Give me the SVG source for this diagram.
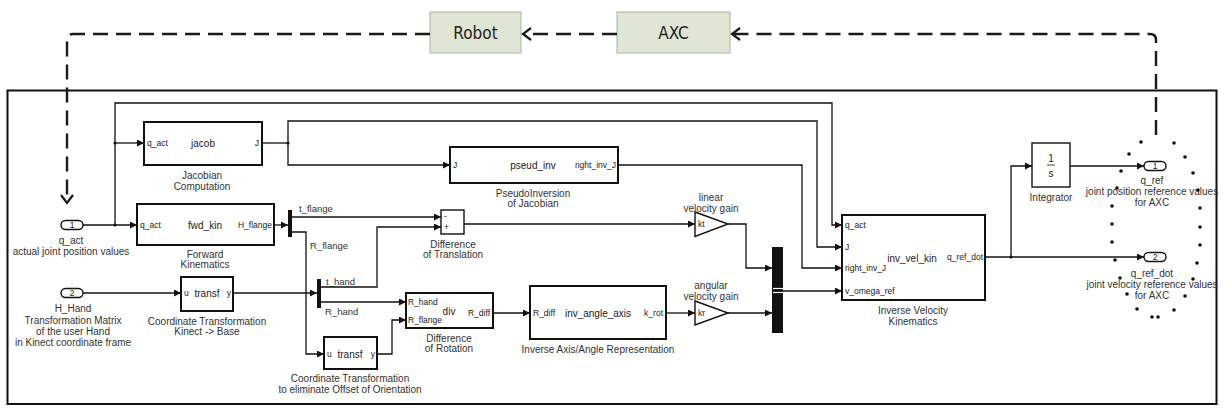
<svg xmlns="http://www.w3.org/2000/svg" width="1224" height="408" viewBox="0 0 1224 408">
<style>
text{font-family:"Liberation Sans",Arial,sans-serif;fill:#222;dominant-baseline:central}
.lbl{font-size:10px;text-anchor:middle;fill:#333}
.nm{font-size:10px;text-anchor:middle}
.pt{font-size:8.5px}
.sg{font-size:9.5px;fill:#333}
.blk{fill:#fff;stroke:#111;stroke-width:2}
.thin{fill:#fff;stroke:#111;stroke-width:1.4}
.w{fill:none;stroke:#111;stroke-width:1.3}
.dash{fill:none;stroke:#1a1a1a;stroke-width:2.4;stroke-dasharray:15 8}
.top{fill:#dfe6d3;stroke:#aab59c;stroke-width:1}
.toptxt{font-family:"DejaVu Sans Condensed","DejaVu Sans",sans-serif;font-size:17px;text-anchor:middle;fill:#222}
.dot{fill:#111}
</style>
<defs>
<marker id="a" markerUnits="userSpaceOnUse" markerWidth="8" markerHeight="7" refX="7" refY="3.5" orient="auto" viewBox="0 0 8 7"><path d="M0,0 L7,3.5 L0,7 z" fill="#111"/></marker>
<marker id="ch" markerUnits="userSpaceOnUse" markerWidth="12" markerHeight="14" refX="10" refY="7" orient="auto" viewBox="0 0 12 14"><path d="M2,1 L10,7 L2,13" fill="none" stroke="#1a1a1a" stroke-width="2.2" stroke-dasharray="none"/></marker>
</defs>

<!-- frame -->
<rect x="7.5" y="90.5" width="1209" height="313.5" fill="none" stroke="#111" stroke-width="2"/>

<!-- top nodes -->
<g id="robot"><rect class="top" x="430" y="12" width="91" height="41"/><text class="toptxt" x="475.5" y="33">Robot</text></g>
<g id="axc"><rect class="top" x="617" y="12" width="113" height="41"/><text class="toptxt" x="673.5" y="33">AXC</text></g>

<!-- blocks -->
<g id="q_act_in"><rect x="61" y="220.5" width="22" height="9" rx="4.5" class="thin"/><text class="pt" x="72" y="225" text-anchor="middle" font-size="7">1</text>
<text class="lbl" x="71" y="240">q_act</text><text class="lbl" x="71" y="251">actual joint position values</text></g>

<g id="h_hand_in"><rect x="61" y="288.5" width="22" height="9" rx="4.5" class="thin"/><text class="pt" x="72" y="293" text-anchor="middle" font-size="7">2</text>
<text class="lbl" x="73" y="308">H_Hand</text><text class="lbl" x="73" y="320">Transformation Matrix</text><text class="lbl" x="73" y="331">of the user Hand</text><text class="lbl" x="73" y="342">in Kinect coordinate frame</text></g>

<g id="jacob"><rect class="blk" x="144" y="122" width="118" height="43"/>
<text class="pt" x="147" y="143">q_act</text><text class="nm" x="203" y="143">jacob</text><text class="pt" x="259" y="143" text-anchor="end">J</text>
<text class="lbl" x="202" y="175">Jacobian</text><text class="lbl" x="202" y="186">Computation</text></g>

<g id="fwd_kin"><rect class="blk" x="137" y="204" width="137" height="41"/>
<text class="pt" x="140" y="225">q_act</text><text class="nm" x="205" y="225">fwd_kin</text><text class="pt" x="272" y="225" text-anchor="end">H_flange</text>
<text class="lbl" x="205" y="254">Forward</text><text class="lbl" x="205" y="264">Kinematics</text></g>

<g id="pseud_inv"><rect class="blk" x="450" y="147" width="168" height="36"/>
<text class="pt" x="453" y="165">J</text><text class="nm" x="533" y="165">pseud_inv</text><text class="pt" x="616" y="165" text-anchor="end">right_inv_J</text>
<text class="lbl" x="533" y="193">PseudoInversion</text><text class="lbl" x="533" y="203">of Jacobian</text></g>

<g id="demux1"><rect x="288" y="210" width="4" height="27" fill="#111"/>
<text class="sg" x="299" y="208">t_flange</text><text class="sg" x="310" y="245">R_flange</text></g>

<g id="demux2"><rect x="317" y="279" width="4" height="29" fill="#111"/>
<text class="sg" x="326" y="281">t_hand</text><text class="sg" x="325" y="311">R_hand</text></g>

<g id="transf1"><rect class="blk" x="181" y="277" width="52" height="34"/>
<text class="pt" x="184" y="293">u</text><text class="nm" x="207" y="293">transf</text><text class="pt" x="231" y="293" text-anchor="end">y</text>
<text class="lbl" x="207" y="321">Coordinate Transformation</text><text class="lbl" x="207" y="331">Kinect -&gt; Base</text></g>

<g id="transf2"><rect class="blk" x="324" y="337" width="53" height="32"/>
<text class="pt" x="327" y="354">u</text><text class="nm" x="350" y="354">transf</text><text class="pt" x="375" y="354" text-anchor="end">y</text>
<text class="lbl" x="350" y="378">Coordinate Transformation</text><text class="lbl" x="350" y="389">to eliminate Offset of Orientation</text></g>

<g id="sum"><rect class="thin" x="441" y="210" width="23" height="24"/>
<text class="pt" x="444" y="216" font-size="8">-</text><text class="pt" x="444" y="227" font-size="8">+</text>
<text class="lbl" x="453" y="244">Difference</text><text class="lbl" x="453" y="254">of Translation</text></g>

<g id="div"><rect class="blk" x="406" y="293" width="87" height="35"/>
<text class="pt" x="408" y="302">R_hand</text><text class="pt" x="408" y="320">R_flange</text><text class="nm" x="449" y="311">div</text><text class="pt" x="490" y="313" text-anchor="end">R_diff</text>
<text class="lbl" x="449" y="338">Difference</text><text class="lbl" x="449" y="348">of Rotation</text></g>

<g id="inv_angle_axis"><rect class="blk" x="530" y="286" width="136" height="53"/>
<text class="pt" x="533" y="313">R_diff</text><text class="nm" x="598" y="313">inv_angle_axis</text><text class="pt" x="663" y="313" text-anchor="end">k_rot</text>
<text class="lbl" x="598" y="349">Inverse Axis/Angle Representation</text></g>

<g id="kt"><path d="M695,212 L728,224 L695,236.5 z" class="thin"/><text class="pt" x="698" y="224" font-size="9">kt</text>
<text class="lbl" x="711" y="197">linear</text><text class="lbl" x="711" y="208">velocity gain</text></g>

<g id="kr"><path d="M695,301 L728,313 L695,325 z" class="thin"/><text class="pt" x="698" y="313" font-size="9">kr</text>
<text class="lbl" x="711" y="285">angular</text><text class="lbl" x="711" y="296">velocity gain</text></g>

<g id="mux"><rect x="772" y="247" width="11" height="86" fill="#111"/>
<line x1="773" y1="288.5" x2="783" y2="288.5" stroke="#fff" stroke-width="1.2"/><line x1="773" y1="292.5" x2="783" y2="292.5" stroke="#fff" stroke-width="1.2"/></g>

<g id="inv_vel_kin"><rect class="blk" x="842" y="215" width="143" height="85"/>
<text class="pt" x="845" y="225">q_act</text><text class="pt" x="845" y="247">J</text><text class="pt" x="845" y="268">right_inv_J</text><text class="pt" x="845" y="291">v_omega_ref</text>
<text class="nm" x="912" y="258">inv_vel_kin</text><text class="pt" x="983" y="257" text-anchor="end">q_ref_dot</text>
<text class="lbl" x="913" y="310">Inverse Velocity</text><text class="lbl" x="913" y="321">Kinematics</text></g>

<g id="integrator"><rect class="thin" x="1032" y="143" width="38" height="44"/>
<text class="nm" x="1051" y="158" font-size="9">1</text><line x1="1047" y1="165" x2="1055" y2="165" stroke="#111" stroke-width="0.8"/><text class="nm" x="1051" y="173" font-size="9">s</text>
<text class="lbl" x="1051" y="197">Integrator</text></g>

<g id="q_ref_out"><rect x="1144" y="161.5" width="22" height="9" rx="4.5" class="thin"/><text class="pt" x="1155" y="166" text-anchor="middle" font-size="7">1</text>
<text class="lbl" x="1152" y="180">q_ref</text><text class="lbl" x="1152" y="191">joint position reference values</text><text class="lbl" x="1152" y="202">for AXC</text></g>

<g id="q_ref_dot_out"><rect x="1144" y="252.5" width="22" height="9" rx="4.5" class="thin"/><text class="pt" x="1155" y="257" text-anchor="middle" font-size="7">2</text>
<text class="lbl" x="1152" y="273">q_ref_dot</text><text class="lbl" x="1152" y="284">joint velocity reference values</text><text class="lbl" x="1152" y="295">for AXC</text></g>

<!-- connectors -->
<g id="connectors">
<path class="w" d="M83,225 H137" marker-end="url(#a)"/>
<path class="w" d="M115,225 V103 H832 V225 H842" marker-end="url(#a)"/>
<path class="w" d="M115,143 H144" marker-end="url(#a)"/>
<path class="w" d="M262,143 H288"/>
<path class="w" d="M288,143 V121 H817 V247 H842" marker-end="url(#a)"/>
<path class="w" d="M288,143 V165 H450" marker-end="url(#a)"/>
<path class="w" d="M618,165 H802 V268 H842" marker-end="url(#a)"/>
<path class="w" d="M274,225 H288" marker-end="url(#a)"/>
<path class="w" d="M292,217 H441" marker-end="url(#a)"/>
<path class="w" d="M292,232 H306 V354 H324" marker-end="url(#a)"/>
<path class="w" d="M83,293 H181" marker-end="url(#a)"/>
<path class="w" d="M233,293 H317" marker-end="url(#a)"/>
<path class="w" d="M321,287 H377 V227 H441" marker-end="url(#a)"/>
<path class="w" d="M321,302 H406" marker-end="url(#a)"/>
<path class="w" d="M377,354 H392 V320 H406" marker-end="url(#a)"/>
<path class="w" d="M493,313 H530" marker-end="url(#a)"/>
<path class="w" d="M464,224 H695" marker-end="url(#a)"/>
<path class="w" d="M666,313 H695" marker-end="url(#a)"/>
<path class="w" d="M728,224 H746 V268 H772" marker-end="url(#a)"/>
<path class="w" d="M728,313 H772" marker-end="url(#a)"/>
<path class="w" d="M783,291 H842" marker-end="url(#a)"/>
<path class="w" d="M985,257 H1144" marker-end="url(#a)"/>
<path class="w" d="M1011,257 V166 H1032" marker-end="url(#a)"/>
<path class="w" d="M1070,166 H1144" marker-end="url(#a)"/>
<circle class="dot" cx="115" cy="225" r="1.6"/><circle class="dot" cx="115" cy="143" r="1.6"/><circle class="dot" cx="288" cy="143" r="1.6"/><circle class="dot" cx="1011" cy="257" r="1.6"/>
<!-- feedback dashed -->
<path class="dash" d="M1156,135 V40 Q1156,34 1150,34 H732" marker-end="url(#ch)"/>
<path class="dash" d="M617,34 H523" marker-end="url(#ch)"/>
<path class="dash" d="M430,34 H73 Q67,34 67,40 V203" marker-end="url(#ch)"/>
</g>

<!-- dotted boundary around outputs -->
<g id="dots" class="dot">
<circle cx="1141" cy="142" r="1.8"/><circle cx="1174" cy="143" r="1.8"/><circle cx="1129" cy="154" r="1.8"/><circle cx="1185" cy="157" r="1.8"/>
<circle cx="1121" cy="171" r="1.8"/><circle cx="1193" cy="173" r="1.8"/><circle cx="1117" cy="188" r="1.8"/><circle cx="1198" cy="190" r="1.8"/>
<circle cx="1112" cy="206" r="1.8"/><circle cx="1200" cy="208" r="1.8"/><circle cx="1112" cy="224" r="1.8"/><circle cx="1200" cy="227" r="1.8"/>
<circle cx="1112" cy="242" r="1.8"/><circle cx="1200" cy="245" r="1.8"/><circle cx="1115" cy="260" r="1.8"/><circle cx="1197" cy="263" r="1.8"/>
<circle cx="1120" cy="278" r="1.8"/><circle cx="1193" cy="279" r="1.8"/><circle cx="1127" cy="294" r="1.8"/><circle cx="1185" cy="296" r="1.8"/>
<circle cx="1137" cy="309" r="1.8"/><circle cx="1174" cy="310" r="1.8"/><circle cx="1152" cy="317" r="1.8"/><circle cx="1158" cy="317" r="1.8"/>
</g>
</svg>
